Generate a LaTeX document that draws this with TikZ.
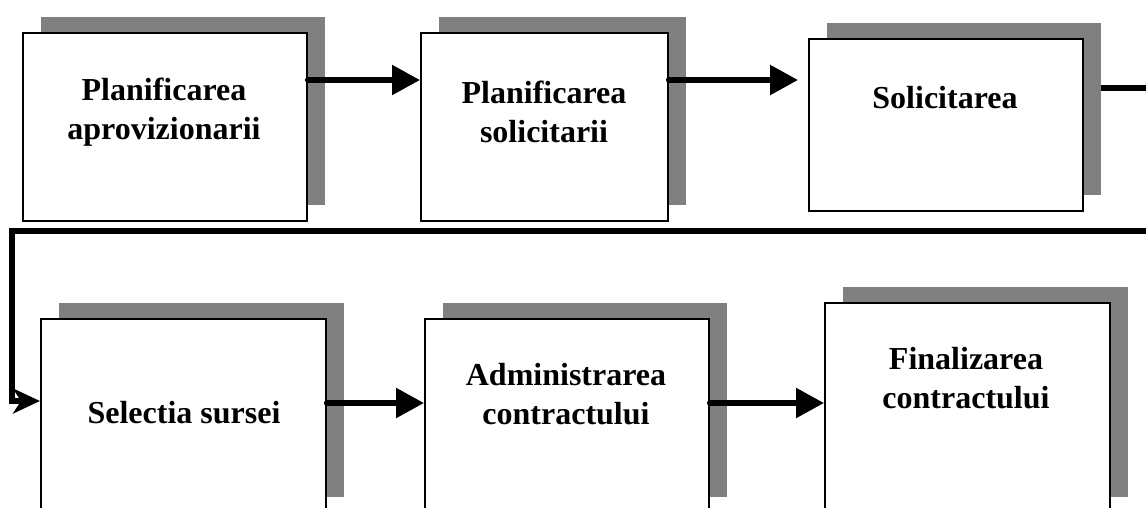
\documentclass[tikz,border=0pt]{standalone}
\usepackage{fontspec}
\setmainfont{Liberation Serif}
\usetikzlibrary{arrows.meta,shadows,calc}
\pgfdeclarelayer{back}
\pgfsetlayers{back,main}
\definecolor{shadowgray}{HTML}{808080}
\begin{document}
\begin{tikzpicture}[x=1pt,y=-1pt,
  stagebox/.style={rectangle, draw=black, line width=1.7pt, fill=white,
    inner sep=0pt, anchor=north west,
    general shadow={fill=shadowgray, draw=none, shadow xshift=18pt, shadow yshift=16pt}},
  stagetext/.style={font=\bfseries\fontsize{32}{39}\selectfont, align=center,
    anchor=base, inner sep=0pt},
  flow/.style={line width=5.5pt, line cap=round, -{Triangle[length=28pt,width=29pt]}},
  loopback/.style={line width=5.5pt, line cap=round, line join=miter,
    -{Stealth[length=27pt,width=25pt,inset=8pt]}}
]
\useasboundingbox (0,0) rectangle (1146,507);

% upper row of stages
\node[stagebox, minimum width=284pt, minimum height=188pt] (b1) at (22,32) {};
\node[stagebox, minimum width=247pt, minimum height=188pt] (b2) at (420,32) {};
\node[stagebox, minimum width=274pt, minimum height=172pt] (b3) at (808,38) {};
% lower row of stages
\node[stagebox, minimum width=285pt, minimum height=194pt] (b4) at (40,318) {};
\node[stagebox, minimum width=284pt, minimum height=194pt] (b5) at (424,318) {};
\node[stagebox, minimum width=285pt, minimum height=210pt] (b6) at (824,302) {};

% stage titles (base = baseline of the last line)
\node[stagetext] (t1) at (164,139) {Planificarea\\aprovizionarii};
\node[stagetext] (t2) at (544,142) {Planificarea\\solicitarii};
\node[stagetext] (t3) at (945,108) {Solicitarea};
\node[stagetext] (t4) at (184,423) {Selectia sursei};
\node[stagetext] (t5) at (566,424) {Administrarea\\contractului};
\node[stagetext] (t6) at (966,408) {Finalizarea\\contractului};

% connectors
\coordinate (o1) at ($(b1.north east)+(0,48)$);
\coordinate (o2) at ($(b2.north east)+(0,48)$);
\coordinate (o3) at ($(b3.north east)+(0,50)$);
\coordinate (i4) at ($(b4.north west)+(0,83)$);
\coordinate (o4) at ($(b4.north east)+(0,85)$);
\coordinate (o5) at ($(b5.north east)+(0,85)$);
\coordinate (turnR) at (1160,231);
\coordinate (turnL) at (12,231);

\draw[flow] (o1) -- (o1 -| b2.west);
\draw[flow, shorten >=10pt] (o2) -- (o2 -| b3.west);
\begin{pgfonlayer}{back}
\draw[loopback] (o3) -- (o3 -| turnR) -- (turnR) -- (turnL) -- (turnL |- i4) -- (i4);
\end{pgfonlayer}
\draw[flow] (o4) -- (o4 -| b5.west);
\draw[flow] (o5) -- (o5 -| b6.west);
\end{tikzpicture}
\end{document}
